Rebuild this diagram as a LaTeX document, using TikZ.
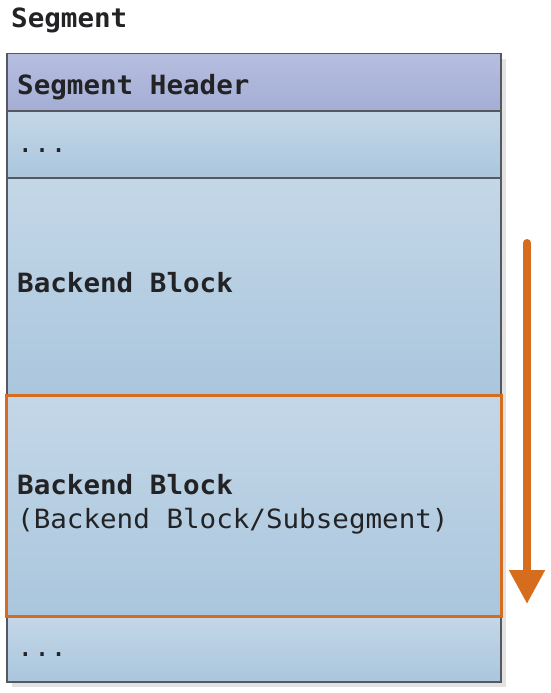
\documentclass[tikz,border=0pt]{standalone}
\usepackage{fontspec}
\setmonofont[FakeStretch=1.04]{DejaVu Sans Mono}
\usetikzlibrary{arrows.meta}
\definecolor{hdrtop}{RGB}{182,190,224}
\definecolor{hdrbot}{RGB}{164,174,212}
\definecolor{rowtop}{RGB}{196,215,232}
\definecolor{rowbot}{RGB}{170,198,221}
\definecolor{edge}{RGB}{85,88,95}
\definecolor{ink}{RGB}{35,35,38}
\definecolor{accent}{RGB}{214,108,30}
\definecolor{shadowgray}{RGB}{226,226,226}
\newcommand\gap{\hphantom{x}}
\tikzset{
  row/.style={draw=edge, line width=1.5pt, shade, top color=rowtop, bottom color=rowbot,
    anchor=north west, minimum width=494pt, inner sep=0pt},
  hdrrow/.style={row, top color=hdrtop, bottom color=hdrbot},
  lbl/.style={anchor=base west, inner sep=0pt, text=ink, font=\ttfamily\fontsize{26.5}{33}\selectfont},
  blbl/.style={lbl, font=\ttfamily\bfseries\fontsize{26.5}{33}\selectfont},
  hilite/.style={draw=accent, line width=3pt},
  flow/.style={draw=accent, line width=8pt, line cap=round, -{Triangle[width=34pt,length=34pt]}}
}
\begin{document}
\begin{tikzpicture}[x=1pt,y=1pt]
\useasboundingbox (0,0) rectangle (550,-693);
% shadow
\fill[shadowgray] (12,-59) rectangle (506,-687);
% rows
\node[hdrrow, minimum height=57pt] (hdr) at (6,-53) {};
\node[row, minimum height=67pt] (dots1) at (6,-110) {};
\node[row, minimum height=218pt] (bb1) at (6,-177) {};
\node[row, minimum height=220pt] (bb2) at (6,-395) {};
\node[row, minimum height=66pt] (dots2) at (6,-615) {};
% labels
\node[blbl] (ttl) at (11,-28) {Segment};
\node[blbl] (hdrtxt) at (17,-94) {Segment\gap Header};
\node[lbl] (dots1txt) at (17,-152) {...};
\node[blbl] (bb1txt) at (17,-292) {Backend\gap Block};
\node[blbl] (bb2txt) at (17,-494) {Backend\gap Block};
\node[lbl] (bb2sub) at (17,-528) {(Backend\gap Block/Subsegment)};
\node[lbl] (dots2txt) at (17,-656) {...};
% highlight and arrow
\draw[hilite] (bb2.north west) rectangle (bb2.south east);
\coordinate (arrTop) at (527,-243);
\coordinate (arrEnd) at (527,-604);
\draw[flow] (arrTop) -- (arrEnd);
\end{tikzpicture}
\end{document}
